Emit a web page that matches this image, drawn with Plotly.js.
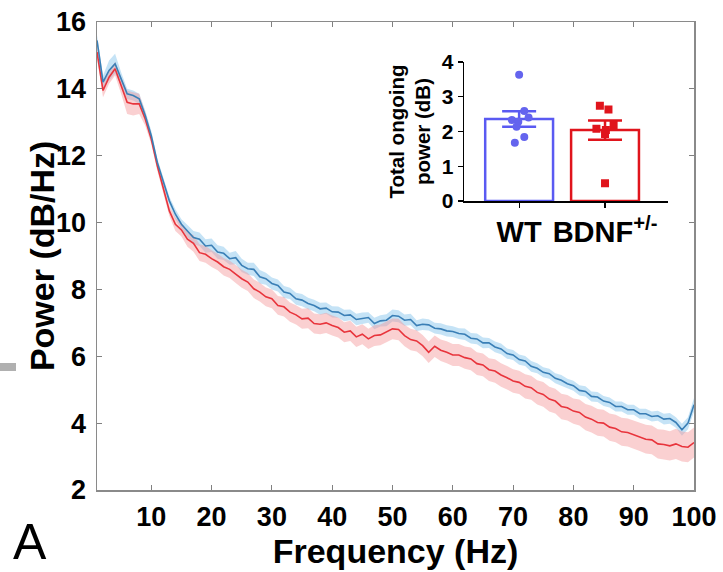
<!DOCTYPE html>
<html>
<head>
<meta charset="utf-8">
<script src="https://cdn.plot.ly/plotly-3.0.1.min.js"></script>
<style>html,body{margin:0;padding:0;background:#fff;}#chart{width:723px;height:572px;}</style>
</head>
<body>
<div id="chart"></div>
<script>
// ---- Main PSD data (1 Hz steps) ----
var freq = [];
for (var i = 1; i <= 100; i++) freq.push(i);

var wtPower = [
 15.45,14.2,14.55,14.75,14.3,13.85,13.8,13.7,13.2,12.6,
 11.8,11.2,10.65,10.25,9.95,9.75,9.55,9.5,9.3,9.32,
 9.12,9.08,8.92,8.95,8.72,8.62,8.6,8.38,8.32,8.18,
 8.12,7.92,7.88,7.72,7.68,7.58,7.52,7.42,7.44,7.33,
 7.32,7.22,7.24,7.1,7.14,7.16,6.98,7.06,7.08,7.22,
 7.2,7.08,7.1,6.92,6.96,6.94,6.84,6.82,6.76,6.74,
 6.68,6.66,6.54,6.52,6.4,6.4,6.28,6.22,6.08,6.04,
 5.9,5.86,5.7,5.64,5.52,5.48,5.34,5.28,5.18,5.12,
 4.98,4.95,4.8,4.78,4.66,4.62,4.5,4.5,4.4,4.4,
 4.28,4.28,4.2,4.22,4.12,4.14,4.02,3.8,4.0,4.55
];
var wtSem = [
 0.15,0.2,0.3,0.3,0.2,0.15,0.15,0.15,0.15,0.15,
 0.12,0.12,0.12,0.15,0.15,0.18,0.2,0.2,0.2,0.2,
 0.2,0.2,0.18,0.2,0.2,0.18,0.2,0.2,0.18,0.18,
 0.18,0.18,0.17,0.18,0.18,0.17,0.17,0.18,0.17,0.17,
 0.17,0.17,0.16,0.17,0.17,0.16,0.17,0.17,0.18,0.18,
 0.18,0.17,0.17,0.16,0.17,0.17,0.16,0.17,0.17,0.16,
 0.16,0.17,0.16,0.16,0.16,0.15,0.16,0.16,0.15,0.15,
 0.15,0.15,0.16,0.15,0.15,0.15,0.15,0.16,0.15,0.15,
 0.15,0.15,0.15,0.15,0.15,0.15,0.15,0.15,0.15,0.15,
 0.15,0.15,0.15,0.15,0.16,0.16,0.16,0.18,0.18,0.2
];
var bdnfPower = [
 15.1,13.95,14.35,14.6,14.1,13.6,13.55,13.55,13.1,12.5,
 11.7,11.0,10.35,9.95,9.78,9.5,9.38,9.1,9.05,8.92,
 8.82,8.68,8.6,8.46,8.32,8.22,8.02,7.92,7.78,7.72,
 7.52,7.48,7.32,7.24,7.12,7.14,6.98,6.96,7.0,6.92,
 6.86,6.72,6.76,6.58,6.66,6.52,6.62,6.64,6.72,6.82,
 6.8,6.62,6.5,6.46,6.32,6.12,6.3,6.18,6.12,6.04,
 6.04,5.96,5.92,5.78,5.74,5.6,5.56,5.44,5.36,5.26,
 5.22,5.1,5.06,4.92,4.86,4.72,4.66,4.5,4.46,4.36,
 4.32,4.18,4.12,4.02,4.0,3.88,3.84,3.74,3.72,3.66,
 3.6,3.52,3.5,3.38,3.36,3.32,3.38,3.3,3.28,3.42
];
var bdnfSem = [
 0.2,0.2,0.2,0.2,0.25,0.35,0.35,0.3,0.2,0.15,
 0.15,0.15,0.15,0.2,0.2,0.22,0.25,0.25,0.25,0.25,
 0.25,0.26,0.26,0.27,0.27,0.27,0.28,0.28,0.28,0.28,
 0.28,0.29,0.29,0.29,0.3,0.3,0.3,0.3,0.3,0.3,
 0.3,0.3,0.3,0.3,0.3,0.3,0.31,0.31,0.31,0.31,
 0.32,0.32,0.32,0.32,0.32,0.32,0.32,0.32,0.33,0.33,
 0.33,0.33,0.34,0.34,0.34,0.34,0.35,0.35,0.35,0.35,
 0.35,0.36,0.36,0.36,0.37,0.37,0.37,0.38,0.38,0.38,
 0.39,0.39,0.4,0.4,0.4,0.41,0.41,0.42,0.42,0.42,
 0.43,0.43,0.43,0.44,0.44,0.44,0.45,0.45,0.45,0.45
];
var xTicks = [10,20,30,40,50,60,70,80,90,100];
var yTicks = [2,4,6,8,10,12,14,16];

// ---- Inset data ----
var groups = ['WT', 'BDNF<sup>+/-</sup>'];
var groupMeans = [2.36, 2.04];
var groupSems = [0.22, 0.28];
var wtPoints = [3.63, 2.59, 2.40, 2.33, 2.28, 2.14, 1.84, 1.68];
var wtJitter = [0.0, 0.06, 0.11, -0.085, -0.01, -0.03, 0.06, -0.05];
var bdnfPoints = [2.74, 2.63, 2.19, 2.08, 2.04, 1.93, 0.51];
var bdnfJitter = [-0.06, 0.04, 0.1, -0.1, 0.01, 0.0, 0.0];
var insetYTicks = [0,1,2,3,4];

function add(a, b, s) { return a.map(function (v, i) { return v + s * b[i]; }); }

var FONT = 'Arial, "Liberation Sans", sans-serif';
var BLUE_LINE = '#3a7fb6', BLUE_BAND = 'rgba(140,200,238,0.5)';
var RED_LINE = '#e8343c', RED_BAND = 'rgba(243,150,152,0.45)';

var traces = [];
// bands
traces.push({x: freq, y: add(wtPower, wtSem, 1), mode: 'lines', line: {width: 0, color: BLUE_BAND}, hoverinfo: 'skip', showlegend: false});
traces.push({x: freq, y: add(wtPower, wtSem, -1), mode: 'lines', line: {width: 0, color: BLUE_BAND}, fill: 'tonexty', fillcolor: BLUE_BAND, hoverinfo: 'skip', showlegend: false});
traces.push({x: freq, y: add(bdnfPower, bdnfSem, 1), mode: 'lines', line: {width: 0, color: RED_BAND}, hoverinfo: 'skip', showlegend: false});
traces.push({x: freq, y: add(bdnfPower, bdnfSem, -1), mode: 'lines', line: {width: 0, color: RED_BAND}, fill: 'tonexty', fillcolor: RED_BAND, hoverinfo: 'skip', showlegend: false});
// mean lines
traces.push({x: freq, y: bdnfPower, mode: 'lines', line: {width: 1.6, color: RED_LINE}, name: 'BDNF+/-', showlegend: false});
traces.push({x: freq, y: wtPower, mode: 'lines', line: {width: 1.6, color: BLUE_LINE}, name: 'WT', showlegend: false});

// inset bars
traces.push({
  type: 'bar', x: [0, 1], y: groupMeans, width: 0.79, xaxis: 'x2', yaxis: 'y2',
  marker: {color: 'rgba(255,255,255,1)', line: {color: ['#5a5af2', '#e0141c'], width: 2.5}},
  showlegend: false, hoverinfo: 'y'
});
traces.push({
  type: 'scatter', mode: 'markers', x: [0], y: [groupMeans[0]], xaxis: 'x2', yaxis: 'y2',
  marker: {size: 0.1, color: 'rgba(0,0,0,0)'},
  error_y: {type: 'data', array: [groupSems[0]], visible: true, color: '#5a5af2', thickness: 2.5, width: 17},
  showlegend: false, hoverinfo: 'skip'
});
traces.push({
  type: 'scatter', mode: 'markers', x: [1], y: [groupMeans[1]], xaxis: 'x2', yaxis: 'y2',
  marker: {size: 0.1, color: 'rgba(0,0,0,0)'},
  error_y: {type: 'data', array: [groupSems[1]], visible: true, color: '#e0141c', thickness: 2.5, width: 17},
  showlegend: false, hoverinfo: 'skip'
});
traces.push({
  type: 'scatter', mode: 'markers', x: wtJitter.map(function (j) { return 0 + j; }), y: wtPoints, xaxis: 'x2', yaxis: 'y2',
  marker: {symbol: 'circle', size: 8, color: '#6464ee'}, showlegend: false
});
traces.push({
  type: 'scatter', mode: 'markers', x: bdnfJitter.map(function (j) { return 1 + j; }), y: bdnfPoints, xaxis: 'x2', yaxis: 'y2',
  marker: {symbol: 'square', size: 8, color: '#e0141c'}, showlegend: false
});

var layout = {
  width: 723, height: 572,
  margin: {l: 97, r: 29, t: 22, b: 82},
  paper_bgcolor: '#ffffff', plot_bgcolor: 'rgba(0,0,0,0)',
  font: {family: FONT, color: '#000'},
  showlegend: false,
  xaxis: {
    range: [1, 100], tickvals: xTicks, ticktext: xTicks.map(String),
    ticks: 'inside', ticklen: 5, tickcolor: '#808080', tickwidth: 1,
    showline: true, linecolor: '#8a8a8a', linewidth: 1.5, mirror: 'ticks',
    showgrid: false, zeroline: false,
    tickfont: {family: FONT, size: 27, weight: 'bold', color: '#000'},
    ticklabelstandoff: 2,
    title: {text: 'Frequency (Hz)', font: {family: FONT, size: 34, weight: 'bold', color: '#000'}, standoff: 3}
  },
  yaxis: {
    range: [2, 16], tickvals: yTicks, ticktext: yTicks.map(String),
    ticks: 'inside', ticklen: 5, tickcolor: '#808080', tickwidth: 1,
    showline: true, linecolor: '#8a8a8a', linewidth: 1.5, mirror: 'ticks',
    showgrid: false, zeroline: false,
    tickfont: {family: FONT, size: 27, weight: 'bold', color: '#000'},
    ticklabelstandoff: 4
  },
  xaxis2: {
    domain: [0.615, 0.956], anchor: 'y2', range: [-0.64, 1.73],
    tickvals: [0, 1], ticktext: groups,
    ticks: 'outside', ticklen: 5, tickcolor: '#000', tickwidth: 1.2,
    showline: true, linecolor: '#000', linewidth: 1.5,
    showgrid: false, zeroline: false,
    tickfont: {family: FONT, size: 29, weight: 'bold', color: '#000'}
  },
  yaxis2: {
    domain: [0.6175, 0.9145], anchor: 'x2', range: [0, 4],
    tickvals: insetYTicks, ticktext: insetYTicks.map(String),
    ticks: 'outside', ticklen: 5, tickcolor: '#000', tickwidth: 1.2,
    showline: true, linecolor: '#000', linewidth: 1.5,
    showgrid: false, zeroline: false,
    tickfont: {family: FONT, size: 21, weight: 'bold', color: '#000'},
    title: {text: 'Total ongoing<br>power (dB)', font: {family: FONT, size: 20.5, weight: 'bold', color: '#000'}, standoff: 5}
  },
  annotations: [
    {text: 'Power (dB/Hz)', xref: 'paper', yref: 'paper', x: -0.092, y: 0.5, textangle: -90,
     xanchor: 'center', yanchor: 'middle', showarrow: false,
     font: {family: FONT, size: 34, weight: 'bold', color: '#000'}},
    {text: 'A', xref: 'paper', yref: 'paper', x: -0.112, y: -0.112, xanchor: 'center', yanchor: 'middle',
     showarrow: false, font: {family: FONT, size: 50, color: '#000'}}
  ],
  shapes: [
    {type: 'rect', xref: 'paper', yref: 'paper', x0: -0.1625, x1: -0.1357, y0: 0.2543, y1: 0.2714,
     fillcolor: '#b0b0b0', line: {width: 0}}
  ]
};

Plotly.newPlot('chart', traces, layout, {displayModeBar: false, staticPlot: true});
</script>
</body>
</html>
